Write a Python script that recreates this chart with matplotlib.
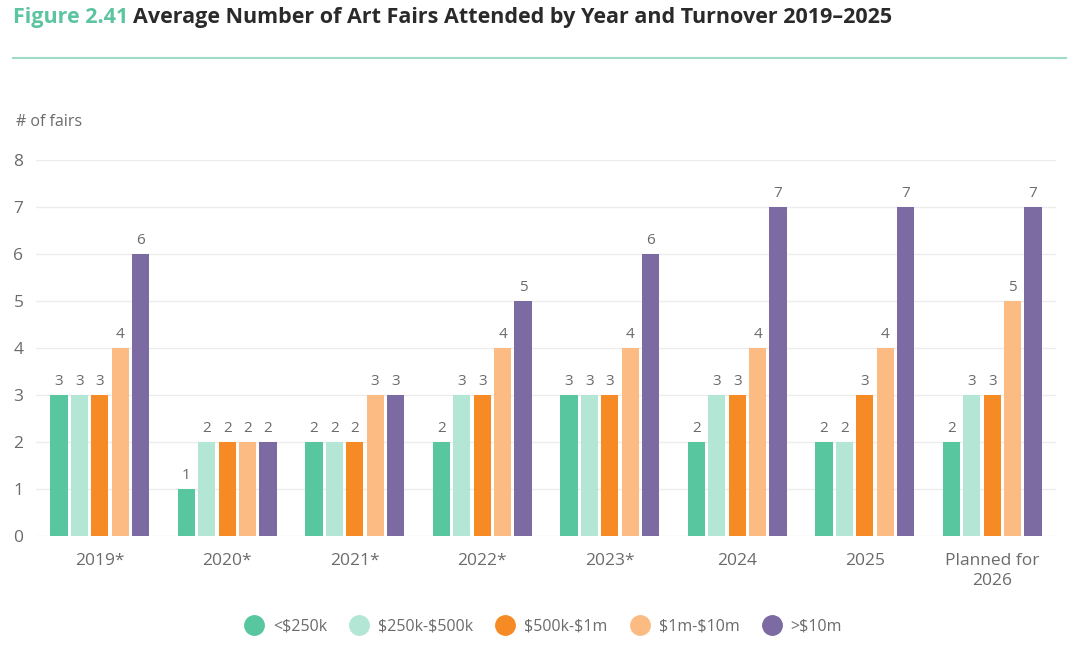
import numpy as np
import matplotlib
matplotlib.use('Agg')
import matplotlib.pyplot as plt
from matplotlib.lines import Line2D

plt.rcParams['font.family'] = ['Open Sans', 'DejaVu Sans']
plt.rcParams['text.parse_math'] = False

# Data
years = ['2019*', '2020*', '2021*', '2022*', '2023*', '2024', '2025', 'Planned for\n2026']
series = ['<$250k', '$250k-$500k', '$500k-$1m', '$1m-$10m', '>$10m']
under_250k = [3, 1, 2, 2, 3, 2, 2, 2]
k250_500k = [3, 2, 2, 3, 3, 3, 2, 3]
k500_1m = [3, 2, 2, 3, 3, 3, 3, 3]
m1_10m = [4, 2, 3, 4, 4, 4, 4, 5]
over_10m = [6, 2, 3, 5, 6, 7, 7, 7]

values = [under_250k, k250_500k, k500_1m, m1_10m, over_10m]
colors = ['#58c7a0', '#b3e6d4', '#f68a24', '#fdbb84', '#7b6ba2']
text_gray = '#6b6b6b'

fig = plt.figure(figsize=(10.8, 6.48), dpi=100)
ax = fig.add_axes([36 / 1080, 112 / 648, 1020 / 1080, 376 / 648])

x = np.arange(len(years))
stride = 0.16
width = 0.135
for i, (vals, col) in enumerate(zip(values, colors)):
    pos = x + (i - 2) * stride
    bars = ax.bar(pos, vals, width=width, color=col, zorder=3)
    for b, v in zip(bars, vals):
        ax.text(b.get_x() + b.get_width() / 2, v + 0.12, str(v), ha='center', va='bottom',
                fontsize=11, color=text_gray)

ax.set_xlim(-0.5, 7.5)
ax.set_ylim(0, 8)
ax.set_yticks(range(0, 9))
ax.grid(axis='y', color='#ececec', linewidth=1, zorder=0)
for s in ax.spines.values():
    s.set_visible(False)
ax.tick_params(axis='both', length=0, colors=text_gray, labelsize=12.5)
ax.tick_params(axis='y', pad=9)
ax.tick_params(axis='x', pad=12)
ax.set_xticks(x)
ax.set_xticklabels(years, linespacing=1.4)

fig.text(16 / 1080, 1 - 122 / 648, '# of fairs', fontsize=11.5, color=text_gray, va='center', ha='left')

# Title
t1 = fig.text(13 / 1080, 1 - 18 / 648, 'Figure 2.41', fontsize=15.5, fontweight='bold',
              color='#5cc5a0', va='center', ha='left')
fig.canvas.draw()
bb = t1.get_window_extent()
fig.text((bb.x1 + 5) / 1080, 1 - 18 / 648,
         'Average Number of Art Fairs Attended by Year and Turnover 2019\u20132025',
         fontsize=15.5, fontweight='bold', color='#2a2a2a', va='center', ha='left')
fig.add_artist(Line2D([13 / 1080, 1066 / 1080], [1 - 58 / 648] * 2, color='#9fdcc6', linewidth=1.5))

handles = [Line2D([0], [0], marker='o', linestyle='', markersize=14, markerfacecolor=c,
                  markeredgecolor=c) for c in colors]
fig.legend(handles, series, loc='center', bbox_to_anchor=(0.5, 1 - 627 / 648), ncol=5, frameon=False,
           fontsize=11.5, labelcolor=text_gray, handletextpad=0.2, columnspacing=1.0)

fig.savefig('out.png', dpi=100, facecolor='white')
